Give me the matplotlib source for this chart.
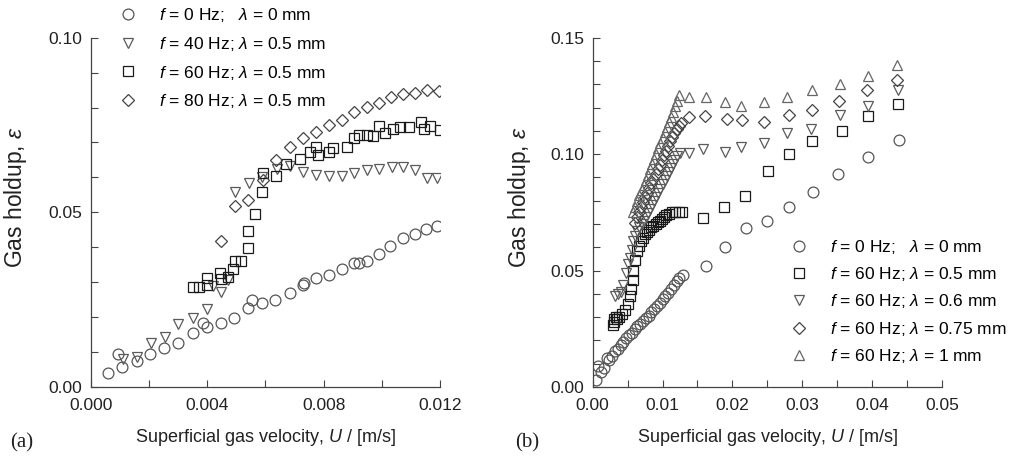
import matplotlib
matplotlib.use("Agg")
from matplotlib import pyplot as plt
from matplotlib.ticker import MultipleLocator, FormatStrFormatter

plt.rcParams['font.family'] = ['Liberation Sans', 'DejaVu Sans']
plt.rcParams['mathtext.fontset'] = 'custom'
plt.rcParams['mathtext.it'] = 'Liberation Sans:italic'
plt.rcParams['mathtext.rm'] = 'Liberation Sans'

# ---- panel (a) data ----
u_a_f0 = [0.00061, 0.00095, 0.00107, 0.00158, 0.00204, 0.00252, 0.00301, 0.00353, 0.00385, 0.00399,
          0.00448, 0.00492, 0.00542, 0.00555, 0.00587, 0.00633, 0.00683, 0.00728, 0.00733, 0.00774,
          0.00819, 0.00862, 0.00905, 0.00923, 0.00948, 0.00989, 0.01028, 0.01072, 0.01114, 0.01152, 0.01189]
e_a_f0 = [0.0039, 0.0095, 0.0058, 0.0075, 0.0095, 0.0111, 0.0127, 0.0156, 0.0182, 0.0173,
          0.0182, 0.0199, 0.0225, 0.0249, 0.0241, 0.0249, 0.0268, 0.0292, 0.0297, 0.0313,
          0.0321, 0.0338, 0.0354, 0.0354, 0.0362, 0.0380, 0.0404, 0.0426, 0.0438, 0.0452, 0.0462]

u_a_f40 = [0.00110, 0.00158, 0.00206, 0.00255, 0.00301, 0.00353, 0.00399, 0.00420, 0.00448, 0.00470,
           0.00496, 0.00545, 0.00590, 0.00640, 0.00685, 0.00730, 0.00774, 0.00820, 0.00863, 0.00905,
           0.00948, 0.00992, 0.01034, 0.01074, 0.01114, 0.01154, 0.01189]
e_a_f40 = [0.0081, 0.0087, 0.0127, 0.0142, 0.0180, 0.0197, 0.0222, 0.0290, 0.0273, 0.0305,
           0.0557, 0.0584, 0.0600, 0.0625, 0.0633, 0.0616, 0.0607, 0.0604, 0.0604, 0.0614,
           0.0621, 0.0623, 0.0631, 0.0629, 0.0621, 0.0597, 0.0597]

u_a_f60 = [0.00350, 0.00373, 0.00399, 0.00399, 0.00444, 0.00447, 0.00471, 0.00490, 0.00496, 0.00515,
           0.00542, 0.00542, 0.00565, 0.00588, 0.00593, 0.00637, 0.00671, 0.00719, 0.00754, 0.00774,
           0.00782, 0.00820, 0.00834, 0.00880, 0.00903, 0.00920, 0.00948, 0.00969, 0.00989, 0.01011,
           0.01040, 0.01063, 0.01092, 0.01134, 0.01145, 0.01166, 0.01200]
e_a_f60 = [0.0285, 0.0285, 0.0311, 0.0292, 0.0327, 0.0308, 0.0316, 0.0337, 0.0361, 0.0361,
           0.0397, 0.0447, 0.0494, 0.0559, 0.0612, 0.0604, 0.0638, 0.0652, 0.0674, 0.0688,
           0.0664, 0.0674, 0.0683, 0.0688, 0.0712, 0.0721, 0.0721, 0.0718, 0.0747, 0.0726,
           0.0740, 0.0745, 0.0745, 0.0759, 0.0740, 0.0747, 0.0736]

u_a_f80 = [0.00447, 0.00496, 0.00542, 0.00593, 0.00637, 0.00685, 0.00729, 0.00774, 0.00820, 0.00863,
           0.00905, 0.00948, 0.00989, 0.01031, 0.01074, 0.01115, 0.01155, 0.01195]
e_a_f80 = [0.0419, 0.0518, 0.0535, 0.0592, 0.0650, 0.0688, 0.0712, 0.0731, 0.0750, 0.0764,
           0.0788, 0.0802, 0.0812, 0.0831, 0.0839, 0.0841, 0.0850, 0.0848]

# ---- panel (b) data ----
u_b_0 = [0.0005, 0.0008, 0.0012, 0.0016, 0.0020, 0.0024, 0.0028, 0.0032, 0.0036, 0.0040,
         0.0044, 0.0048, 0.0052, 0.0056, 0.0060, 0.0064, 0.0068, 0.0072, 0.0076, 0.0080,
         0.0084, 0.0088, 0.0092, 0.0096, 0.0100, 0.0104, 0.0108, 0.0112, 0.0116, 0.0120,
         0.0124, 0.0129, 0.01622, 0.01889, 0.02199, 0.02495, 0.02805, 0.03154, 0.03511,
         0.03941, 0.04389]
e_b_0 = [0.0030, 0.0090, 0.0065, 0.0080, 0.0125, 0.0115, 0.0135, 0.0155, 0.0165, 0.0180,
         0.0195, 0.0210, 0.0225, 0.0232, 0.0250, 0.0262, 0.0270, 0.0282, 0.0295, 0.0307,
         0.0320, 0.0335, 0.0348, 0.0362, 0.0378, 0.0392, 0.0405, 0.0420, 0.0438, 0.0455,
         0.0468, 0.0480, 0.0520, 0.0602, 0.0681, 0.0712, 0.0774, 0.0838, 0.0913,
         0.0986, 0.1060]

u_b_05 = [0.0029, 0.0030, 0.0031, 0.0033, 0.0035, 0.0038, 0.0042, 0.0046, 0.0050, 0.0053,
          0.0055, 0.0057, 0.0058, 0.0060, 0.0063, 0.0066, 0.0069, 0.0072, 0.0075, 0.0078,
          0.0081, 0.0084, 0.0087, 0.0090, 0.0093, 0.0096, 0.0099, 0.0102, 0.0105, 0.0109,
          0.0113, 0.0118, 0.0123, 0.0128, 0.01579, 0.01875, 0.02185, 0.02505, 0.02805,
          0.03139, 0.03569, 0.03941, 0.04370]
e_b_05 = [0.0268, 0.0280, 0.0292, 0.0300, 0.0290, 0.0300, 0.0315, 0.0330, 0.0358, 0.0390,
          0.0420, 0.0460, 0.0500, 0.0545, 0.0585, 0.0605, 0.0625, 0.0640, 0.0655, 0.0665,
          0.0675, 0.0685, 0.0690, 0.0700, 0.0708, 0.0715, 0.0722, 0.0730, 0.0738, 0.0745,
          0.0750, 0.0752, 0.0752, 0.0750, 0.0724, 0.0774, 0.0820, 0.0927, 0.1000,
          0.1057, 0.1099, 0.1163, 0.1214]

u_b_06 = [0.0032, 0.0036, 0.0040, 0.0044, 0.0048, 0.0051, 0.0054, 0.0056, 0.0058, 0.0061,
          0.0064, 0.0067, 0.0070, 0.0073, 0.0076, 0.0079, 0.0082, 0.0085, 0.0088, 0.0091,
          0.0094, 0.0097, 0.0100, 0.0103, 0.0106, 0.0109, 0.0112, 0.0115, 0.0118, 0.0121,
          0.0125, 0.01374, 0.01579, 0.01889, 0.02128, 0.02448, 0.02781, 0.03130, 0.03545,
          0.03941, 0.04370]
e_b_06 = [0.0390, 0.0400, 0.0410, 0.0440, 0.0490, 0.0530, 0.0555, 0.0590, 0.0625, 0.0650,
          0.0668, 0.0685, 0.0700, 0.0715, 0.0730, 0.0748, 0.0765, 0.0782, 0.0800, 0.0818,
          0.0835, 0.0852, 0.0870, 0.0888, 0.0905, 0.0922, 0.0940, 0.0958, 0.0975, 0.0992,
          0.1003, 0.1006, 0.1024, 0.1010, 0.1032, 0.1049, 0.1089, 0.1110, 0.1168,
          0.1206, 0.1275]

u_b_075 = [0.0060, 0.0063, 0.0066, 0.0069, 0.0072, 0.0075, 0.0078, 0.0081, 0.0084, 0.0087,
           0.0090, 0.0093, 0.0096, 0.0099, 0.0102, 0.0105, 0.0108, 0.0111, 0.0114, 0.0117,
           0.0120, 0.0123, 0.0126, 0.01374, 0.01613, 0.01923, 0.02137, 0.02448, 0.02805,
           0.03139, 0.03521, 0.03927, 0.04356]
e_b_075 = [0.0705, 0.0728, 0.0750, 0.0772, 0.0795, 0.0815, 0.0835, 0.0855, 0.0875, 0.0895,
           0.0915, 0.0935, 0.0955, 0.0975, 0.0995, 0.1015, 0.1035, 0.1055, 0.1075, 0.1092,
           0.1108, 0.1120, 0.1135, 0.1161, 0.1163, 0.1153, 0.1146, 0.1139, 0.1168,
           0.1189, 0.1229, 0.1275, 0.1318]

u_b_1 = [0.0058, 0.0061, 0.0064, 0.0067, 0.0070, 0.0073, 0.0076, 0.0079, 0.0082, 0.0085,
         0.0088, 0.0091, 0.0094, 0.0097, 0.0100, 0.0103, 0.0106, 0.0109, 0.0112, 0.0115,
         0.0118, 0.0121, 0.0124, 0.01374, 0.01627, 0.01889, 0.02128, 0.02448, 0.02781,
         0.03139, 0.03545, 0.03941, 0.04356]
e_b_1 = [0.0750, 0.0775, 0.0800, 0.0823, 0.0845, 0.0868, 0.0890, 0.0912, 0.0935, 0.0958,
         0.0980, 0.1002, 0.1025, 0.1048, 0.1070, 0.1093, 0.1115, 0.1137, 0.1160, 0.1183,
         0.1205, 0.1228, 0.1255, 0.1246, 0.1244, 0.1225, 0.1206, 0.1225, 0.1246,
         0.1275, 0.1301, 0.1335, 0.1383]

labels_a = [r"$f$ = 0 Hz;   $\lambda$ = 0 mm", r"$f$ = 40 Hz; $\lambda$ = 0.5 mm",
            r"$f$ = 60 Hz; $\lambda$ = 0.5 mm", r"$f$ = 80 Hz; $\lambda$ = 0.5 mm"]
labels_b = [r"$f$ = 0 Hz;   $\lambda$ = 0 mm", r"$f$ = 60 Hz; $\lambda$ = 0.5 mm",
            r"$f$ = 60 Hz; $\lambda$ = 0.6 mm", r"$f$ = 60 Hz; $\lambda$ = 0.75 mm",
            r"$f$ = 60 Hz; $\lambda$ = 1 mm"]

fig = plt.figure(figsize=(10.24, 4.62), dpi=100)
ax1 = fig.add_axes([0.0886, 0.1623, 0.3411, 0.7561])
ax2 = fig.add_axes([0.5788, 0.1623, 0.3411, 0.7561])

mfc = 'none'
mew = 0.9
ax1.plot(u_a_f0, e_a_f0, 'o', ms=7.8, mfc=mfc, mec='#555555', mew=mew, label=labels_a[0])
ax1.plot(u_a_f40, e_a_f40, 'v', ms=7.8, mfc=mfc, mec='#5a5a5a', mew=mew, label=labels_a[1])
ax1.plot(u_a_f60, e_a_f60, 's', ms=7.0, mfc=mfc, mec='#1a1a1a', mew=mew, label=labels_a[2])
ax1.plot(u_a_f80, e_a_f80, 'D', ms=6.6, mfc=mfc, mec='#444444', mew=mew, label=labels_a[3])

ax2.plot(u_b_0, e_b_0, 'o', ms=7.8, mfc=mfc, mec='#555555', mew=mew, label=labels_b[0])
ax2.plot(u_b_05, e_b_05, 's', ms=7.0, mfc=mfc, mec='#1a1a1a', mew=mew, label=labels_b[1])
ax2.plot(u_b_06, e_b_06, 'v', ms=7.8, mfc=mfc, mec='#5a5a5a', mew=mew, label=labels_b[2])
ax2.plot(u_b_075, e_b_075, 'D', ms=6.6, mfc=mfc, mec='#444444', mew=mew, label=labels_b[3])
ax2.plot(u_b_1, e_b_1, '^', ms=7.8, mfc=mfc, mec='#666666', mew=mew, label=labels_b[4])

ax1.set_xlim(0, 0.012)
ax1.set_ylim(0, 0.10)
ax1.xaxis.set_major_locator(MultipleLocator(0.004))
ax1.xaxis.set_minor_locator(MultipleLocator(0.002))
ax1.xaxis.set_major_formatter(FormatStrFormatter('%.3f'))
ax1.yaxis.set_major_locator(MultipleLocator(0.05))
ax1.yaxis.set_minor_locator(MultipleLocator(0.01))
ax1.yaxis.set_major_formatter(FormatStrFormatter('%.2f'))

ax2.set_xlim(0, 0.05)
ax2.set_ylim(0, 0.15)
ax2.xaxis.set_major_locator(MultipleLocator(0.01))
ax2.xaxis.set_minor_locator(MultipleLocator(0.005))
ax2.xaxis.set_major_formatter(FormatStrFormatter('%.2f'))
ax2.yaxis.set_major_locator(MultipleLocator(0.05))
ax2.yaxis.set_minor_locator(MultipleLocator(0.01))
ax2.yaxis.set_major_formatter(FormatStrFormatter('%.2f'))

for ax in (ax1, ax2):
    ax.spines['top'].set_visible(False)
    ax.spines['right'].set_visible(False)
    for s in ('left', 'bottom'):
        ax.spines[s].set_color('#444444')
        ax.spines[s].set_linewidth(0.9)
    ax.tick_params(which='both', direction='in', length=5, width=0.8, color='#444444',
                   labelsize=12.5, labelcolor='#222222', pad=6)
    ax.tick_params(axis='x', pad=8)
    ax.set_xlabel(r"Superficial gas velocity, $U$ / [m/s]", fontsize=13, color='#222222')
    ax.set_ylabel(r"Gas holdup, $\varepsilon$", fontsize=16.5, color='#222222')
    ax.xaxis.set_label_coords(0.499, -0.115)

ax1.yaxis.set_label_coords(-0.178, 0.545)
ax2.yaxis.set_label_coords(-0.171, 0.544)

leg_kw = dict(frameon=False, fontsize=12.5, handlelength=1.0, handletextpad=1.28,
              borderpad=0, borderaxespad=0,
              bbox_transform=fig.transFigure, loc='upper left')
ax1.legend(bbox_to_anchor=(0.1165, 0.987), labelspacing=0.62, **leg_kw)
ax2.legend(bbox_to_anchor=(0.7718, 0.4857), labelspacing=0.54, **leg_kw)

fig.text(22 / 1024, 1 - 443 / 462, "(a)", family='Liberation Serif', fontsize=15,
         ha='center', va='center', color='#222222')
fig.text(527 / 1024, 1 - 443 / 462, "(b)", family='Liberation Serif', fontsize=15,
         ha='center', va='center', color='#222222')

fig.savefig("out.png", dpi=100)
